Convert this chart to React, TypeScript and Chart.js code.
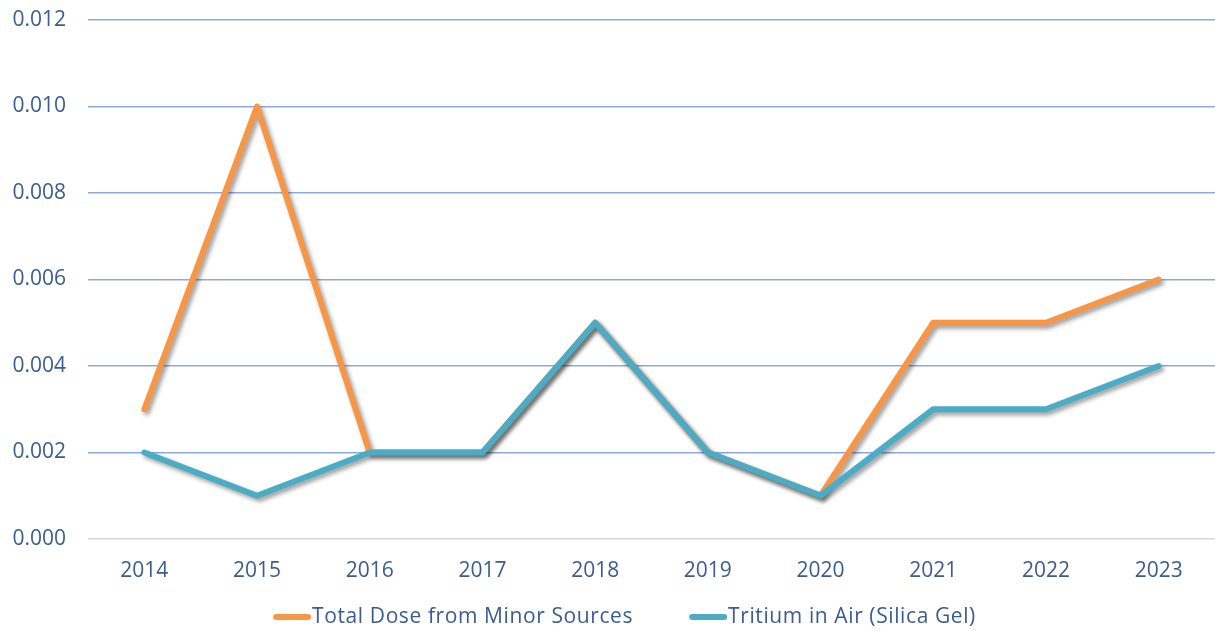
import React, { useEffect, useRef } from "react";
import { Chart, registerables } from "chart.js";

Chart.register(...registerables);

const years = ["2014", "2015", "2016", "2017", "2018", "2019", "2020", "2021", "2022", "2023"];
const totalDoseMinor = [0.003, 0.01, 0.002, 0.002, 0.005, 0.002, 0.001, 0.005, 0.005, 0.006];
const tritiumInAir = [0.002, 0.001, 0.002, 0.002, 0.005, 0.002, 0.001, 0.003, 0.003, 0.004];
const seriesNames = ["Total Dose from Minor Sources", "Tritium in Air (Silica Gel)"];

const ORANGE = "#F79646";
const TEAL = "#4BACC6";
const TEXT = "#3A5C8F";
const FONT = "'Open Sans', Lato, sans-serif";

// soft drop shadow under the series lines
const lineShadow = {
  id: "lineShadow",
  beforeDatasetsDraw(chart: any) {
    const ctx = chart.ctx;
    ctx.save();
    ctx.shadowColor = "rgba(0,0,0,0.38)";
    ctx.shadowBlur = 4;
    ctx.shadowOffsetX = 2.5;
    ctx.shadowOffsetY = 3;
  },
  afterDatasetsDraw(chart: any) {
    chart.ctx.restore();
  },
};

// legend row under the x axis: short thick line swatch followed by the series name
const bottomLegend = {
  id: "bottomLegend",
  afterDraw(chart: any) {
    const ctx = chart.ctx;
    const swatch = 38;
    const gapText = 1;
    const gapItems = 56;
    ctx.save();
    ctx.font = `21px ${FONT}`;
    (ctx as any).letterSpacing = "0.6px";
    ctx.textBaseline = "middle";
    const items = chart.data.datasets.map((ds: any) => ({
      text: ds.label,
      color: ds.borderColor,
      w: swatch + gapText + ctx.measureText(ds.label).width,
    }));
    const total = items.reduce((s: number, it: any) => s + it.w, 0) + gapItems * (items.length - 1);
    let x = chart.width / 2 + 17 - total / 2;
    const y = chart.height - 16;
    items.forEach((it: any) => {
      ctx.strokeStyle = it.color;
      ctx.lineWidth = 6;
      ctx.lineCap = "round";
      ctx.beginPath();
      ctx.moveTo(x + 3, y);
      ctx.lineTo(x + swatch - 3, y);
      ctx.stroke();
      ctx.fillStyle = TEXT;
      ctx.textAlign = "left";
      ctx.fillText(it.text, x + swatch + gapText, y);
      x += it.w + gapItems;
    });
    ctx.restore();
  },
};

export default function App() {
  const canvasRef = useRef<HTMLCanvasElement | null>(null);

  useEffect(() => {
    document.body.style.margin = "0";
    const canvas = canvasRef.current;
    if (!canvas) return;
    const chart = new Chart(canvas, {
      type: "line",
      data: {
        labels: years,
        datasets: [
          {
            label: seriesNames[0],
            data: totalDoseMinor,
            borderColor: ORANGE,
            backgroundColor: ORANGE,
            borderWidth: 6,
            borderCapStyle: "round",
            borderJoinStyle: "round",
            pointRadius: 0,
            pointHoverRadius: 0,
            tension: 0,
            order: 1,
          },
          {
            label: seriesNames[1],
            data: tritiumInAir,
            borderColor: TEAL,
            backgroundColor: TEAL,
            borderWidth: 6,
            borderCapStyle: "round",
            borderJoinStyle: "round",
            pointRadius: 0,
            pointHoverRadius: 0,
            tension: 0,
            order: 0,
          },
        ],
      },
      options: {
        animation: false,
        responsive: true,
        maintainAspectRatio: false,
        layout: { padding: { left: 0, right: 0, top: 20, bottom: 34 } },
        scales: {
          x: {
            offset: true,
            grid: { display: false },
            border: { display: false },
            ticks: { color: TEXT, font: { family: FONT, size: 21 }, padding: 11 },
            afterFit: (scale: any) => {
              scale.height = 60;
              scale.paddingLeft = 0;
              scale.paddingRight = 0;
            },
          },
          y: {
            min: 0,
            max: 0.012,
            afterFit: (scale: any) => {
              scale.width = 88;
              scale.paddingTop = 0;
              scale.paddingBottom = 0;
            },
            grid: {
              drawTicks: false,
              lineWidth: 1.5,
              color: (c: any) => (c.tick && c.tick.value === 0 ? "#D9D9D9" : "#8EA9DB"),
            },
            border: { display: false },
            ticks: {
              stepSize: 0.002,
              color: TEXT,
              padding: 22,
              font: { family: FONT, size: 21 },
              callback: (v: any) => Number(v).toFixed(3),
            },
          },
        },
        plugins: {
          tooltip: { enabled: false },
          legend: { display: false },
        },
      },
      plugins: [lineShadow, bottomLegend],
    });
    return () => chart.destroy();
  }, []);

  return (
    <div style={{ width: 1215, height: 633, position: "relative" }}>
      <canvas ref={canvasRef} />
    </div>
  );
}
